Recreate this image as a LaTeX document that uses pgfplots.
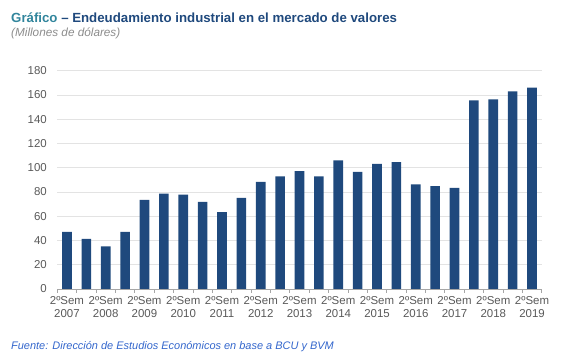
\documentclass[border=0pt]{standalone}
\usepackage{fontspec}
\setmainfont{Liberation Sans}
\usepackage{pgfplots}
\pgfplotsset{compat=1.18}
\definecolor{barblue}{HTML}{1F497D}
\definecolor{titleblue}{HTML}{1F497D}
\definecolor{teal}{HTML}{31859C}
\definecolor{subgray}{HTML}{8C8C8C}
\definecolor{tickgray}{HTML}{595959}
\definecolor{gridgray}{HTML}{E3E3E3}
\definecolor{axisgray}{HTML}{A6A6A6}
\definecolor{srcblue}{HTML}{3366CC}
\begin{document}
\begin{tikzpicture}
\path[use as bounding box] (0,0) rectangle (567bp,359bp);
\node[anchor=base west, inner sep=0pt, font=\fontsize{13.3}{16}\selectfont\bfseries] at (11bp,336.7bp)
  {\textcolor{teal}{Gráfico} \textcolor{titleblue}{– Endeudamiento industrial en el mercado de valores}};
\node[anchor=base west, inner sep=0pt, font=\fontsize{11.8}{14}\selectfont\itshape, text=subgray] at (11bp,322bp)
  {(Millones de dólares)};
\node[anchor=base west, inner sep=0pt, font=\fontsize{11}{13}\selectfont\itshape, text=srcblue] at (11bp,10bp)
  {Fuente: Dirección de Estudios Económicos en base a BCU y BVM};
\begin{axis}[
  at={(57.3bp,70bp)}, anchor=south west,
  scale only axis, width=484.4bp, height=218.3bp,
  xmin=-0.5, xmax=24.5, ymin=0, ymax=180,
  ytick={0,20,...,180},
  ymajorgrids, grid style={gridgray, line width=0.8pt},
  axis y line*=left, y axis line style={draw=none},
  axis x line*=bottom, x axis line style={axisgray, line width=0.8pt},
  xtick={0,2,...,24},
  xticklabels={2ºSem\\2007,2ºSem\\2008,2ºSem\\2009,2ºSem\\2010,2ºSem\\2011,2ºSem\\2012,2ºSem\\2013,2ºSem\\2014,2ºSem\\2015,2ºSem\\2016,2ºSem\\2017,2ºSem\\2018,2ºSem\\2019},
  minor xtick={-0.5,0.5,...,24.5},
  major tick length=0pt,
  minor tick length=4bp,
  tick align=outside,
  minor tick style={axisgray, line width=0.8pt},
  ytick style={draw=none},
  /pgf/number format/assume math mode=true,
  yticklabel style={font=\fontsize{11.5}{13}\selectfont, text=tickgray, xshift=-7bp},
  xticklabel style={font=\fontsize{11.5}{13.5}\selectfont, text=tickgray, align=center, yshift=-4bp},
]
\addplot[ybar, bar width=9.7bp, fill=barblue, draw=none] coordinates {
(0,47.1) (1,41.3) (2,35.2) (3,47.1) (4,73.5) (5,78.7) (6,77.9) (7,71.8) (8,63.3) (9,75.1)
(10,88.4) (11,92.8) (12,97.2) (13,92.8) (14,106.0) (15,96.6) (16,103.2) (17,104.6)
(18,86.2) (19,84.8) (20,83.4) (21,155.5) (22,156.3) (23,163.0) (24,166.0)
};
\end{axis}
\end{tikzpicture}
\end{document}
